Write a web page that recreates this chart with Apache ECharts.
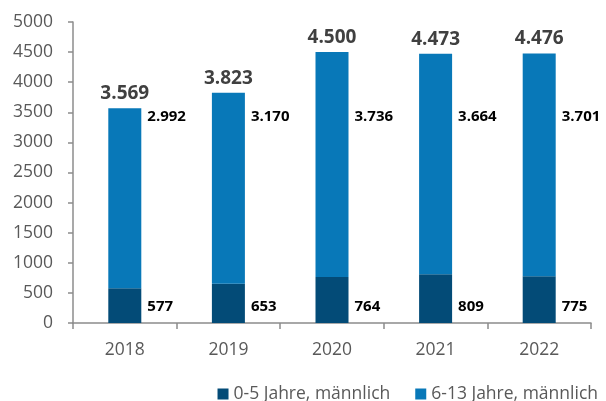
<!DOCTYPE html>
<html>
<head>
<meta charset="utf-8">
<script src="https://cdn.jsdelivr.net/npm/echarts@6/dist/echarts.min.js"></script>
<style>
  html, body { margin: 0; padding: 0; background: #fff; }
  #chart { width: 606px; height: 401px; }
</style>
</head>
<body>
<div id="chart"></div>
<script>
var years = ['2018', '2019', '2020', '2021', '2022'];
var jung = [577, 653, 764, 809, 775];        // 0-5 Jahre, männlich
var alt = [2992, 3170, 3736, 3664, 3701];    // 6-13 Jahre, männlich
var yTicks = [0, 5000, 500];                 // min, max, interval

// Zahlen im deutschen Format (3.569)
function fmt(v) {
    return String(v).replace(/\B(?=(\d{3})+(?!\d))/g, '.');
}

var totals = jung.map(function (v, i) { return v + alt[i]; });

// Beschriftungen stehen in einer festen Höhe neben den Balken
var altLabelLevel = 3430;
var jungLabelLevel = 270;

var jungData = jung.map(function (v) {
    return {
        value: v,
        label: { position: ['100%', ((v - jungLabelLevel) / v * 100) + '%'] }
    };
});
var altData = alt.map(function (v, i) {
    return {
        value: v,
        label: { position: ['100%', ((totals[i] - altLabelLevel) / v * 100) + '%'] }
    };
});

var sideLabel = {
    show: true,
    align: 'left',
    verticalAlign: 'middle',
    offset: [6, 0],
    color: '#000',
    fontFamily: 'Open Sans',
    fontWeight: 'bold',
    fontSize: 15,
    formatter: function (p) { return fmt(p.value); }
};

var myChart = echarts.init(document.getElementById('chart'));

var option = {
    animation: false,
    grid: { left: 73, right: 15, top: 22, bottom: 78 },
    legend: {
        data: ['0-5 Jahre, männlich', '6-13 Jahre, männlich'],
        right: 3,
        top: 380,
        icon: 'rect',
        itemWidth: 11,
        itemHeight: 11,
        itemGap: 25,
        textStyle: { fontFamily: 'Open Sans', fontSize: 17.5, color: '#595959' }
    },
    xAxis: {
        type: 'category',
        data: years,
        axisLine: { lineStyle: { color: '#8c8c8c', width: 1.5 } },
        axisTick: { show: true, length: 6, lineStyle: { color: '#8c8c8c', width: 1.5 } },
        axisLabel: { margin: 18, fontFamily: 'Open Sans', fontSize: 17.5, color: '#595959' }
    },
    yAxis: {
        type: 'value',
        min: yTicks[0],
        max: yTicks[1],
        interval: yTicks[2],
        splitLine: { show: false },
        axisLine: { show: true, lineStyle: { color: '#8c8c8c', width: 1.5 } },
        axisTick: { show: true, length: 5, lineStyle: { color: '#8c8c8c', width: 1.5 } },
        axisLabel: {
            margin: 20,
            fontFamily: 'Open Sans',
            fontSize: 17.5,
            color: '#595959',
            formatter: function (v) { return String(v); }
        }
    },
    series: [
        {
            name: '0-5 Jahre, männlich',
            type: 'bar',
            stack: 'gesamt',
            barWidth: 33,
            itemStyle: { color: '#034b77' },
            label: sideLabel,
            data: jungData
        },
        {
            name: '6-13 Jahre, männlich',
            type: 'bar',
            stack: 'gesamt',
            barWidth: 33,
            itemStyle: { color: '#0878b8' },
            label: sideLabel,
            data: altData
        },
        {
            name: 'Summe',
            type: 'bar',
            stack: 'gesamt',
            barWidth: 33,
            itemStyle: { color: 'transparent' },
            label: {
                show: true,
                position: 'top',
                distance: 5,
                color: '#404040',
                fontFamily: 'Open Sans',
                fontWeight: 'bold',
                fontSize: 19,
                formatter: function (p) { return fmt(totals[p.dataIndex]); }
            },
            data: totals.map(function () { return 0; })
        }
    ]
};
myChart.setOption(option);
</script>
</body>
</html>
